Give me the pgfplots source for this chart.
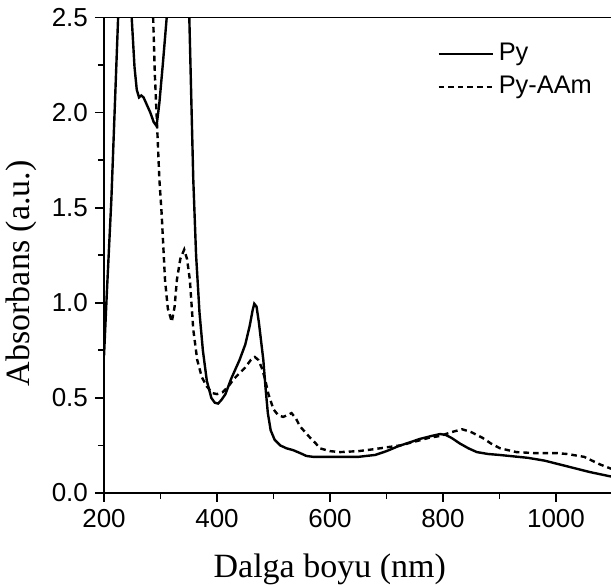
\documentclass[border=0pt]{standalone}
\usepackage{fontspec}
\setmainfont{Liberation Sans}
\newfontfamily\seriffont{Liberation Serif}
\usepackage{pgfplots}
\pgfplotsset{compat=1.18}

\begin{document}
\begin{tikzpicture}
\begin{axis}[
    scale only axis,
    width=254.25pt,
    height=237.75pt,
    xmin=200, xmax=1100,
    ymin=0, ymax=2.5,
    xtick={200,400,...,1000},
    minor xtick={300,500,...,1100},
    ytick={0,0.5,...,2.5},
    minor ytick={0.25,0.75,...,2.25},
    tick align=outside,
    major tick length=4.5pt,
    minor tick length=3pt,
    tick style={line width=0.9pt, black},
    xtick pos=bottom,
    ytick pos=left,
    axis line style={line width=1pt},
    axis x line*=bottom,
    axis y line*=left,
    /pgf/number format/assume math mode=true,
    /pgf/number format/1000 sep={},
    yticklabel style={/pgf/number format/fixed, /pgf/number format/precision=1, /pgf/number format/fixed zerofill},
    tick label style={font=\fontsize{13}{15}\selectfont},
    xlabel={Dalga boyu (nm)},
    ylabel={Absorbans (a.u.)},
    every axis x label/.style={at={(axis description cs:0.444,-0.1767)}, anchor=base,
        font=\seriffont\fontsize{17}{19}\selectfont},
    every axis y label/.style={at={(axis description cs:-0.162,0.462)}, anchor=center, rotate=90,
        font=\seriffont\fontsize{17}{19}\selectfont},
    legend style={draw=none, fill=none, at={(axis description cs:0.643,0.968)}, anchor=north west,
        font=\fontsize{12.7}{15}\selectfont, row sep=0pt,
        nodes={text height=9pt, text depth=2.6pt, inner sep=2.5pt}},
    legend cell align=left,
    legend image code/.code={\draw[#1] (0pt,0pt) -- (27pt,0pt);},
]
\addplot[black, line width=1.2pt] coordinates {
(200,0.72) (205,1.05) (213,1.54) (225,2.5) (232,3.0) (240,3.1) (245,2.9)
(249,2.5) (254,2.24) (258,2.12) (262,2.08) (266,2.09) (270,2.08) (276,2.04)
(282,2.0) (288,1.95) (293,1.93) (298,2.05) (304,2.25) (311,2.5) (320,2.9)
(335,3.0) (345,2.8) (351,2.5) (358,1.65) (363,1.25) (369,0.95) (375,0.75)
(382,0.59) (390,0.5) (396,0.475) (402,0.47) (408,0.49) (415,0.52) (425,0.6)
(440,0.7) (450,0.78) (458,0.88) (463,0.96) (466,0.995) (470,0.98) (474,0.9)
(478,0.8) (482,0.7) (486,0.55) (490,0.42) (495,0.33) (502,0.28) (512,0.25)
(523,0.235) (535,0.225) (547,0.21) (558,0.195) (570,0.19) (600,0.19)
(650,0.19) (680,0.2) (700,0.22) (720,0.245) (740,0.265) (760,0.285)
(780,0.3) (795,0.31) (805,0.305) (815,0.29) (830,0.26) (845,0.235)
(860,0.215) (880,0.205) (900,0.2) (950,0.185) (980,0.17) (1020,0.14)
(1060,0.11) (1100,0.085)
};
\addlegendentry{Py}
\addplot[black, line width=1.2pt, dash pattern=on 2.8pt off 2pt] coordinates {
(200,3.5) (250,3.5) (280,3.2) (287,2.5) (290,2.2) (294,1.93) (298,1.65)
(302,1.47) (308,1.12) (313,0.97) (320,0.9) (325,0.98) (329,1.12) (335,1.23)
(342,1.28) (347,1.23) (352,1.12) (358,0.86) (365,0.7) (373,0.61) (382,0.56)
(392,0.525) (400,0.52) (410,0.53) (420,0.56) (430,0.6) (440,0.63) (450,0.66)
(460,0.7) (467,0.715) (473,0.7) (479,0.66) (485,0.6) (491,0.52) (500,0.44)
(508,0.41) (517,0.40) (525,0.41) (532,0.42) (540,0.39) (547,0.35) (556,0.32)
(565,0.29) (575,0.26) (582,0.235) (600,0.22) (618,0.215) (650,0.22)
(677,0.23) (700,0.24) (724,0.25) (750,0.27) (775,0.29) (795,0.3) (815,0.32)
(834,0.335) (850,0.32) (870,0.29) (885,0.26) (901,0.235) (930,0.215)
(960,0.21) (1000,0.21) (1020,0.205) (1050,0.19) (1078,0.15) (1100,0.125)
};
\addlegendentry{Py-AAm}
\draw[line width=1pt] (rel axis cs:0,1) -- (rel axis cs:1,1);
\end{axis}
\pgfresetboundingbox
\path[use as bounding box] (-52pt,-47pt) rectangle (253.5pt,246.5pt);
\end{tikzpicture}
\end{document}
